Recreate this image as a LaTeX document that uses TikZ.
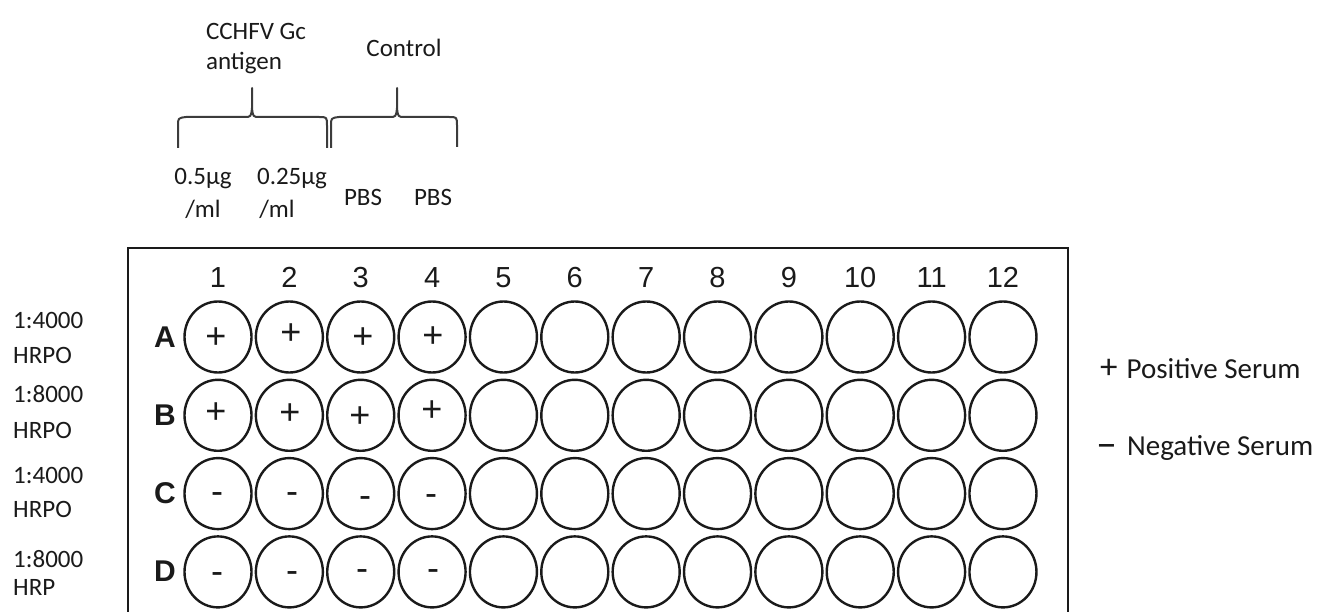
\documentclass[tikz,border=0pt]{standalone}
\usepackage{fontspec}
\setmainfont{Carlito}
\newfontfamily\arialfont{Liberation Sans}
\usetikzlibrary{shapes.geometric}
\definecolor{ink}{HTML}{1A1A1A}
\begin{document}
\begin{tikzpicture}[x=1pt,y=-1pt,
  lab/.style={font=\fontsize{25}{27}\selectfont, inner sep=0pt, text=ink, anchor=base},
  labw/.style={lab, anchor=base west},
  legend/.style={font=\fontsize{29}{31}\selectfont, inner sep=0pt, text=ink, anchor=base west},
  colnum/.style={font=\arialfont\fontsize{29}{31}\selectfont, inner sep=0pt, text=ink, anchor=base},
  rowlet/.style={font=\arialfont\bfseries\fontsize{30}{32}\selectfont, inner sep=0pt, text=ink, anchor=base},
  sign/.style={font=\arialfont\fontsize{36}{38}\selectfont, inner sep=0pt, text=ink},
  well/.style={draw=ink, ellipse, line width=2.4pt, minimum width=67pt, minimum height=71pt, inner sep=0pt},
  plate/.style={draw=ink, line width=2.5pt},
  bracestyle/.style={draw=ink!85, line width=2pt, line join=round}
]
\useasboundingbox (0,0) rectangle (1336,612);
\clip (0,0) rectangle (1336,612);

% top labels
\node[lab] (cchfv) at (256,40) {CCHFV Gc};
\node[lab] (antigen) at (244,70) {antigen};
\node[lab] (control) at (404,57) {Control};

% braces
\draw[bracestyle] (178,148) -- (178,126) .. controls (178,118) .. (186,117) -- (244,117)
  .. controls (251,117) .. (252,108) -- (252,88) -- (252,108) .. controls (253,117) .. (260,117)
  -- (319,117) .. controls (327,117) .. (327,126) -- (327,148);
\draw[bracestyle] (331,148) -- (331,126) .. controls (331,118) .. (339,117) -- (389,117)
  .. controls (396,117) .. (397,108) -- (397,88) -- (397,108) .. controls (398,117) .. (405,117)
  -- (449,117) .. controls (457,117) .. (457,126) -- (457,147);

% column sub labels
\node[lab] (c1a) at (203,185) {0.5µg};
\node[lab] (c1b) at (203,218) {/ml};
\node[lab] (c2a) at (292,185) {0.25µg};
\node[lab] (c2b) at (277,218) {/ml};
\node[lab] (c3) at (363,206) {PBS};
\node[lab] (c4) at (433,206) {PBS};

% left labels
\node[labw] (l1a) at (13,328) {1:4000};
\node[labw] (l1b) at (13,363) {HRPO};
\node[labw] (l2a) at (13,402) {1:8000};
\node[labw] (l2b) at (13,438) {HRPO};
\node[labw] (l3a) at (13,483) {1:4000};
\node[labw] (l3b) at (13,517) {HRPO};
\node[labw] (l4a) at (13,567) {1:8000};
\node[labw] (l4b) at (13,595) {HRP};

% plate outline
\draw[plate] (128,640) -- (128,248) -- (1068,248) -- (1068,640);

% column numbers
\foreach \c in {1,...,12}
  \node[colnum] (n\c) at ({218+(\c-1)*71.36},288) {\c};

% row letters and wells
\foreach \r/\L in {1/A,2/B,3/C,4/D} {
  \node[rowlet] (L\L) at (165,{347+(\r-1)*78.3}) {\L};
  \foreach \c in {1,...,12}
    \node[well] (w\L\c) at ({218+(\c-1)*71.36},{337+(\r-1)*78.3}) {};
}

% signs in wells
\node[sign] (sA1) at (216,338) {+};
\node[sign] (sA2) at (291,334) {+};
\node[sign] (sA3) at (363,338) {+};
\node[sign] (sA4) at (433,337) {+};
\node[sign] (sB1) at (216,413) {+};
\node[sign] (sB2) at (290,414) {+};
\node[sign] (sB3) at (360,417) {+};
\node[sign] (sB4) at (432,411) {+};
\node[sign] (sC1) at (217,498) {-};
\node[sign] (sC2) at (292,498) {-};
\node[sign] (sC3) at (365,502) {-};
\node[sign] (sC4) at (431,500) {-};
\node[sign] (sD1) at (217,578) {-};
\node[sign] (sD2) at (292,577) {-};
\node[sign] (sD3) at (362,575) {-};
\node[sign] (sD4) at (433,575) {-};

% legend
\node[legend] (pos) at (1100,378) {{\fontsize{35}{35}\selectfont +}\hspace{9pt}Positive Serum};
\node[legend] (neg) at (1096,455) {\raisebox{-2pt}{\fontsize{42}{42}\selectfont –}\hspace{10pt}Negative Serum};
\end{tikzpicture}
\end{document}
